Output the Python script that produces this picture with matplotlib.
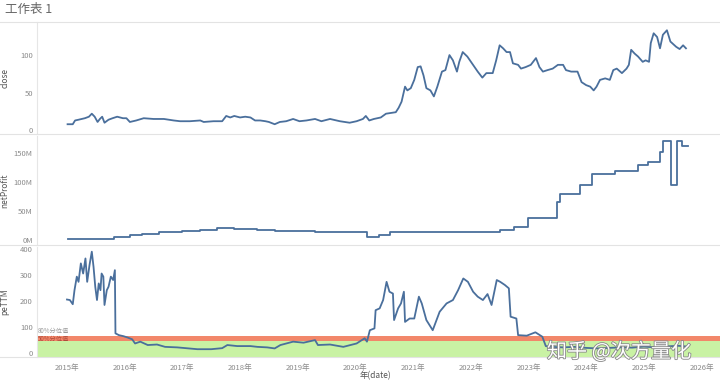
import matplotlib
matplotlib.use("Agg")
import matplotlib.pyplot as plt
import matplotlib.patheffects as pe
from matplotlib.lines import Line2D

plt.rcParams['font.family'] = ['Noto Sans CJK SC', 'DejaVu Sans']

# ---- data (decimal years) ----
close_dates = [2015.01, 2015.10, 2015.14, 2015.20, 2015.31, 2015.38, 2015.43, 2015.48, 2015.53, 2015.57,
               2015.61, 2015.65, 2015.72, 2015.79, 2015.87, 2015.97, 2016.03, 2016.09, 2016.20, 2016.33,
               2016.50, 2016.68, 2016.85, 2016.96, 2017.13, 2017.31, 2017.37, 2017.54, 2017.69, 2017.76,
               2017.83, 2017.90, 2018.00, 2018.09, 2018.18, 2018.26, 2018.35, 2018.44, 2018.50, 2018.60,
               2018.69, 2018.80, 2018.92, 2019.03, 2019.15, 2019.30, 2019.41, 2019.56, 2019.73, 2019.90,
               2020.02, 2020.13, 2020.18, 2020.24, 2020.32, 2020.44, 2020.53, 2020.61, 2020.70, 2020.75,
               2020.80, 2020.86, 2020.90, 2020.96, 2021.02, 2021.08, 2021.13, 2021.18, 2021.23, 2021.30,
               2021.36, 2021.42, 2021.50, 2021.56, 2021.63, 2021.69, 2021.76, 2021.80, 2021.86, 2021.94,
               2022.04, 2022.12, 2022.20, 2022.27, 2022.33, 2022.38, 2022.44, 2022.50, 2022.56, 2022.62,
               2022.68, 2022.73, 2022.82, 2022.87, 2022.95, 2023.04, 2023.13, 2023.19, 2023.25, 2023.33,
               2023.42, 2023.51, 2023.60, 2023.65, 2023.74, 2023.85, 2023.92, 2024.00, 2024.07, 2024.13,
               2024.18, 2024.24, 2024.33, 2024.41, 2024.47, 2024.53, 2024.62, 2024.70, 2024.74, 2024.78,
               2024.84, 2024.90, 2024.98, 2025.03, 2025.09, 2025.12, 2025.17, 2025.23, 2025.28, 2025.33,
               2025.40, 2025.46, 2025.56, 2025.62, 2025.68, 2025.73]
close_vals = [8, 8, 13, 14, 16, 18, 22, 18, 11, 15,
              18, 10, 14, 16, 18, 16, 16, 11, 13, 16,
              15, 15, 13, 12, 12, 13, 11, 12, 12, 19,
              17, 19, 17, 18, 17, 13, 13, 12, 11, 8,
              11, 12, 15, 12, 13, 15, 12, 15, 12, 10,
              12, 15, 19, 13, 15, 17, 22, 23, 24, 30,
              38, 58, 53, 56, 67, 84, 85, 73, 56, 53,
              45, 58, 78, 80, 100, 93, 78, 91, 104, 98,
              87, 78, 70, 76, 76, 76, 93, 113, 109, 104,
              104, 89, 87, 82, 84, 87, 96, 84, 78, 80,
              82, 87, 87, 80, 78, 78, 64, 60, 58, 53,
              58, 67, 69, 67, 80, 82, 76, 82, 87, 107,
              102, 98, 91, 93, 91, 116, 129, 124, 109, 127,
              133, 118, 111, 108, 113, 109]

profit_dates = [2015.01, 2015.82, 2016.10, 2016.30, 2016.60, 2017.00, 2017.30, 2017.60, 2017.90, 2018.30,
                2018.60, 2019.00, 2019.30, 2019.70, 2020.20, 2020.40, 2020.60, 2021.00, 2022.50, 2022.75,
                2023.00, 2023.49, 2023.55, 2023.89, 2024.10, 2024.50, 2024.90, 2025.07, 2025.28, 2025.33,
                2025.47, 2025.58, 2025.66, 2025.76]
profit_vals = [2, 6, 8, 10, 14, 16, 18, 20, 19, 18,
               16, 15, 14, 13, 5, 9, 13, 14, 17, 23,
               38, 66, 80, 95, 114, 119, 129, 134, 152, 171,
               94, 171, 161, 161]  # millions

pe_dates = [2015.00, 2015.05, 2015.10, 2015.13, 2015.17, 2015.20, 2015.24, 2015.28, 2015.32, 2015.35,
            2015.39, 2015.43, 2015.46, 2015.49, 2015.52, 2015.55, 2015.58, 2015.60, 2015.63, 2015.65,
            2015.69, 2015.72, 2015.76, 2015.80, 2015.83, 2015.84, 2015.90, 2015.98, 2016.05, 2016.13,
            2016.18, 2016.27, 2016.40, 2016.56, 2016.70, 2016.91, 2017.26, 2017.50, 2017.69, 2017.78,
            2017.95, 2018.18, 2018.30, 2018.47, 2018.60, 2018.70, 2018.92, 2019.10, 2019.30, 2019.35,
            2019.56, 2019.79, 2020.02, 2020.16, 2020.20, 2020.25, 2020.33, 2020.35, 2020.42, 2020.48,
            2020.54, 2020.59, 2020.65, 2020.67, 2020.74, 2020.79, 2020.84, 2020.86, 2020.94, 2021.02,
            2021.10, 2021.15, 2021.23, 2021.34, 2021.46, 2021.58, 2021.69, 2021.78, 2021.87, 2021.95,
            2022.04, 2022.12, 2022.21, 2022.29, 2022.36, 2022.45, 2022.51, 2022.59, 2022.66, 2022.69,
            2022.79, 2022.82, 2022.97, 2023.12, 2023.24, 2023.30, 2023.40, 2023.60, 2023.80, 2024.00,
            2024.20, 2024.40, 2024.60, 2024.80, 2025.00, 2025.20, 2025.40, 2025.60, 2025.76]
pe_vals = [206, 204, 188, 242, 294, 274, 345, 306, 364, 274,
           338, 390, 332, 255, 204, 268, 242, 306, 294, 185,
           242, 255, 294, 281, 319, 76, 69, 65, 60, 53,
           37, 44, 31, 33, 24, 22, 15, 15, 19, 31,
           27, 27, 24, 22, 18, 31, 44, 40, 50, 31,
           33, 24, 37, 57, 44, 88, 95, 165, 172, 204,
           274, 236, 229, 127, 172, 191, 236, 120, 133, 133,
           217, 191, 127, 88, 159, 191, 204, 242, 287, 274,
           236, 217, 204, 227, 185, 281, 274, 262, 249, 140,
           133, 69, 67, 80, 63, 27, 24, 22, 24, 20,
           18, 20, 22, 21, 25, 22, 26, 28, 25]

pe_median = 45
pe_p80 = 66

years = list(range(2015, 2027))
year_labels = [f"{y}年" for y in years]

# ---- figure ----
fig = plt.figure(figsize=(7.2, 3.85), dpi=100)
line_col = "#4a6f9c"
tick_col = "#8a8a8a"
left, width = 37 / 720, 683 / 720

def fy(px):
    return 1 - px / 385

ax1 = fig.add_axes([left, fy(134), width, fy(22) - fy(134)])
ax2 = fig.add_axes([left, fy(245), width, fy(136) - fy(245)], sharex=ax1)
ax3 = fig.add_axes([left, fy(357), width, fy(247) - fy(357)], sharex=ax1)

ax1.plot(close_dates, close_vals, color=line_col, lw=1.3)
ax2.plot(profit_dates, [v * 1e6 for v in profit_vals], color=line_col, lw=1.3, drawstyle="steps-post")
ax3.plot(pe_dates, pe_vals, color=line_col, lw=1.3, zorder=3)

ax1.set_ylim(-5, 144)
ax1.set_yticks([0, 50, 100])
ax2.set_ylim(-8.6e6, 179e6)
ax2.set_yticks([0, 50e6, 100e6, 150e6])
ax2.set_yticklabels(["0M", "50M", "100M", "150M"])
ax3.set_ylim(-15, 408)
ax3.set_yticks([0, 100, 200, 300, 400])

# reference bands
ax3.axhspan(-15, pe_median, color="#c9f2a4", zorder=1, lw=0)
ax3.axhspan(pe_median, pe_p80, color="#f2876a", zorder=1, lw=0)
ax3.text(2014.5, pe_p80 + 3, "80%分位值", fontsize=4.5, color="#9a9a9a", va="bottom")
ax3.text(2014.5, pe_median + 10, "50%分位值", fontsize=4.5, color="#b04a3a", va="center")

ax1.set_xlim(2014.48, 2026.32)
ax3.set_xticks(years)
ax3.set_xticklabels(year_labels)

for ax, lab in [(ax1, "close"), (ax2, "netProfit"), (ax3, "peTTM")]:
    for s in ax.spines.values():
        s.set_visible(False)
    ax.spines["left"].set_visible(True)
    ax.spines["left"].set_color("#e6e6e6")
    ax.tick_params(axis="both", length=0, labelsize=5.5, colors=tick_col, pad=3)
    ax.set_ylabel(lab, fontsize=6, color="#555555", labelpad=6)
    ax.yaxis.set_label_coords(-0.04, 0.5)
for ax in (ax1, ax2):
    ax.tick_params(axis="x", labelbottom=False)

ax3.tick_params(axis="x", pad=5)
fig.text(375 / 720, fy(376), "年(date)", fontsize=6, color="#555555", ha="center", va="center")

# pane separators
for py in (22, 134, 245, 357):
    fig.add_artist(Line2D([0, 1], [fy(py), fy(py)], color="#e3e3e3", lw=0.8))

fig.text(5 / 720, fy(10), "工作表 1", fontsize=9, color="#666666", va="center")

wm = fig.text(619 / 720, fy(352), "知乎 @次方量化", fontsize=14.5, color="white",
              ha="center", va="center", zorder=10)
wm.set_path_effects([pe.Stroke(linewidth=1.2, foreground="#888888"), pe.Normal()])

fig.savefig("out.png", dpi=100)
